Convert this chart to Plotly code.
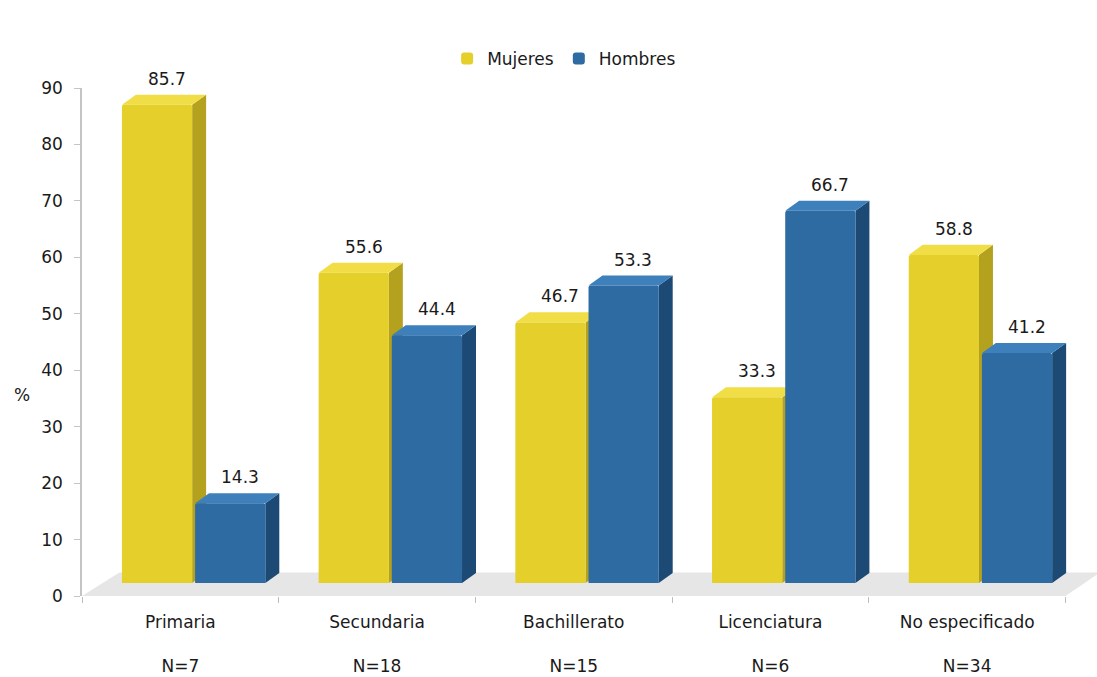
import plotly.graph_objects as go

categories = ["Primaria", "Secundaria", "Bachillerato", "Licenciatura", "No especificado"]
n_labels = ["N=7", "N=18", "N=15", "N=6", "N=34"]
mujeres = [85.7, 55.6, 46.7, 33.3, 58.8]
hombres = [14.3, 44.4, 53.3, 66.7, 41.2]
y_ticks = [0, 10, 20, 30, 40, 50, 60, 70, 80, 90]

FONT = "DejaVu Sans"
TXT = "#1a1a1a"
FS = 17

# geometry (style parameters)
BAR_W = 0.357
OFF_M = -0.297
OFF_H = 0.075
DX = 0.071          # depth in x data units
DY = 1.8            # depth in y2 data units
Y2_RANGE = [-2.33, 88.71]

styles = {
    "Mujeres": dict(front="#E5CF2B", side="#B4A11D", top="#F1DE47", off=OFF_M),
    "Hombres": dict(front="#2D6BA2", side="#1D4A74", top="#3D80BC", off=OFF_H),
}

xs = list(range(len(categories)))
fig = go.Figure()

# empty trace so the visible y axis (0-90) gets drawn
fig.add_trace(go.Scatter(x=[None], y=[None], yaxis="y", showlegend=False,
                         hoverinfo="skip", mode="markers"))

shapes = []
# floor
fl = -0.5
fr = 4.5
shapes.append(dict(type="path", xref="x", yref="y2", layer="below",
                   path=f"M {fl},-2.33 L {fr},-2.33 L {fr+0.175},1.9 L {fl+0.19},1.9 Z",
                   fillcolor="#E6E6E6", line=dict(width=0)))
shapes.append(dict(type="path", xref="x", yref="y2", layer="below",
                   path=f"M {fl},-2.33 L {fr},-2.33 L {fr},-2.9 L {fl},-2.9 Z",
                   fillcolor="#D0D0D0", line=dict(width=0)))

annotations = []
for name, vals in (("Mujeres", mujeres), ("Hombres", hombres)):
    st = styles[name]
    fig.add_trace(go.Bar(
        x=xs, y=vals, name=name, yaxis="y2",
        width=[BAR_W] * len(xs), offset=[st["off"]] * len(xs),
        marker=dict(color=st["front"], line=dict(width=0), cornerradius=2),
        hoverinfo="x+y",
    ))
    for i, v in zip(xs, vals):
        l = i + st["off"]
        r = l + BAR_W
        # side face
        shapes.append(dict(type="path", xref="x", yref="y2", layer="below",
                           path=f"M {r},{v} L {r+DX},{v+DY} L {r+DX},{DY} L {r},0 Z",
                           fillcolor=st["side"], line=dict(width=0)))
        # top face
        shapes.append(dict(type="path", xref="x", yref="y2", layer="below",
                           path=f"M {l},{v} L {r},{v} L {r+DX},{v+DY} L {l+DX},{v+DY} Z",
                           fillcolor=st["top"], line=dict(width=0)))
        annotations.append(dict(x=(l + r) / 2 + 0.05, y=v + DY, xref="x", yref="y2",
                                text=f"{v:.1f}", showarrow=False, yanchor="bottom",
                                yshift=4, font=dict(family=FONT, size=FS, color=TXT)))

# horizontal "%" axis title
annotations.append(dict(text="%", xref="paper", yref="paper", x=-0.059, y=0.396,
                        xanchor="center", yanchor="middle", showarrow=False,
                        font=dict(family=FONT, size=FS, color=TXT)))

fig.update_layout(
    width=1097, height=677,
    margin=dict(l=82, r=0, t=88, b=81),
    paper_bgcolor="white", plot_bgcolor="white",
    barmode="overlay",
    font=dict(family=FONT, size=FS, color=TXT),
    shapes=shapes, annotations=annotations,
    showlegend=True,
    legend=dict(orientation="h", x=0.475, xanchor="center", y=1.057, yanchor="middle",
                font=dict(family=FONT, size=FS, color=TXT), itemwidth=30,
                traceorder="normal", bgcolor="rgba(0,0,0,0)"),
    xaxis=dict(
        range=[-0.5, 4.66], tickvals=xs,
        ticktext=[f"{c}<br><br>{n}" for c, n in zip(categories, n_labels)],
        ticks="", showline=False, showgrid=False, zeroline=False,
        ticklabelstandoff=14,
        tickfont=dict(family=FONT, size=FS, color=TXT),
        minor=dict(tickvals=[-0.5, 0.5, 1.5, 2.5, 3.5, 4.5], ticks="outside",
                   ticklen=6, tickcolor="#BDBDBD", showgrid=False),
        fixedrange=True,
    ),
    yaxis=dict(
        range=[0, 90], tickvals=y_ticks, showgrid=False, zeroline=False,
        showline=True, linecolor="#C4C4C4", linewidth=1.5,
        ticks="outside", ticklen=6, tickcolor="#C4C4C4",
        ticklabelstandoff=8,
        tickfont=dict(family=FONT, size=FS, color=TXT),
    ),
    yaxis2=dict(range=Y2_RANGE, overlaying="y", visible=False, showgrid=False),
)

fig.write_html("out.html")
